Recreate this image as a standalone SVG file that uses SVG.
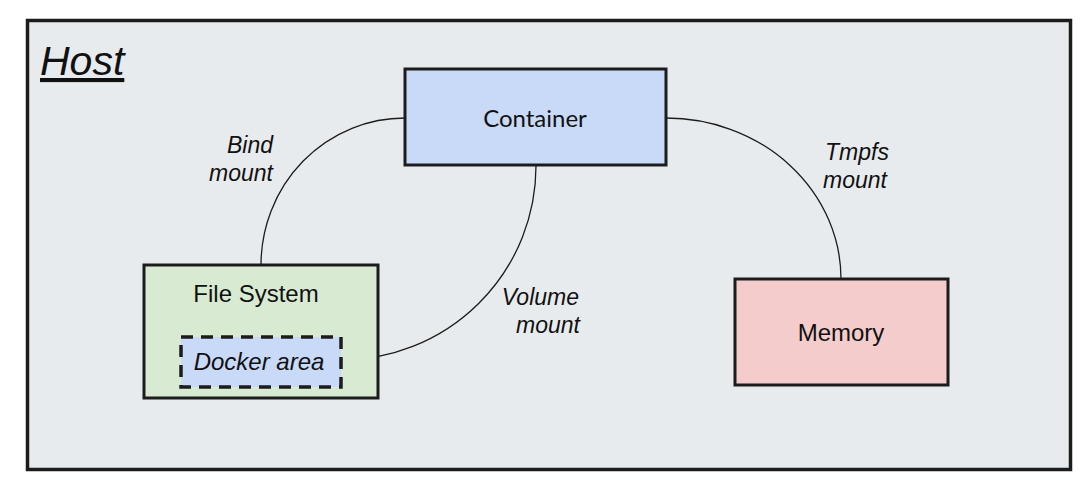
<svg xmlns="http://www.w3.org/2000/svg" width="1092" height="489" viewBox="0 0 1092 489">
<style>
.box{stroke:#1c1c1c;stroke-width:3}
.conn{fill:none;stroke:#1c1c1c;stroke-width:1.3}
.t{font-family:"Liberation Sans",Arial,sans-serif;fill:#111;font-size:24px;text-anchor:middle}
.lbl{font-family:"Liberation Sans",Arial,sans-serif;fill:#111;font-size:23px;font-style:italic}
</style>
<rect width="1092" height="489" fill="#ffffff"/>
<g id="host">
<rect x="27.5" y="20.5" width="1043" height="449" fill="#e8ebed" stroke="#1c1c1c" stroke-width="3.5"/>
<text x="40" y="75" font-family="'Liberation Sans',Arial,sans-serif" font-size="41" font-style="italic" fill="#111" text-decoration="underline">Host</text>
</g>
<g id="connectors">
<path class="conn" d="M405,118 A144 147 0 0 0 261,265"/>
<path class="conn" d="M666,118 A175 161 0 0 1 841,279"/>
<path class="conn" d="M536,166 A195 194 0 0 1 341,360"/>
<text class="lbl" text-anchor="end" x="273" y="153">Bind</text>
<text class="lbl" text-anchor="end" x="273" y="181">mount</text>
<text class="lbl" text-anchor="end" x="579" y="305">Volume</text>
<text class="lbl" text-anchor="end" x="580" y="333">mount</text>
<text class="lbl" text-anchor="middle" x="857" y="160">Tmpfs</text>
<text class="lbl" text-anchor="middle" x="855" y="188">mount</text>
</g>
<g id="container">
<rect class="box" x="405" y="69" width="261" height="96" fill="#c9daf8"/>
<text x="535" y="127" font-family="Lato,sans-serif" font-size="24" fill="#111" text-anchor="middle">Container</text>
</g>
<g id="filesystem">
<rect class="box" x="144" y="265" width="234" height="133" fill="#d9ead3"/>
<text class="t" x="256" y="302">File System</text>
</g>
<g id="dockerarea">
<rect x="181" y="337" width="160" height="50" fill="#c9daf8" stroke="#1c1c1c" stroke-width="3.5" stroke-dasharray="12 8"/>
<text class="t" x="259" y="370" font-style="italic">Docker area</text>
</g>
<g id="memory">
<rect class="box" x="735" y="279" width="213" height="106" fill="#f4cccc"/>
<text class="t" x="841" y="341">Memory</text>
</g>
</svg>
